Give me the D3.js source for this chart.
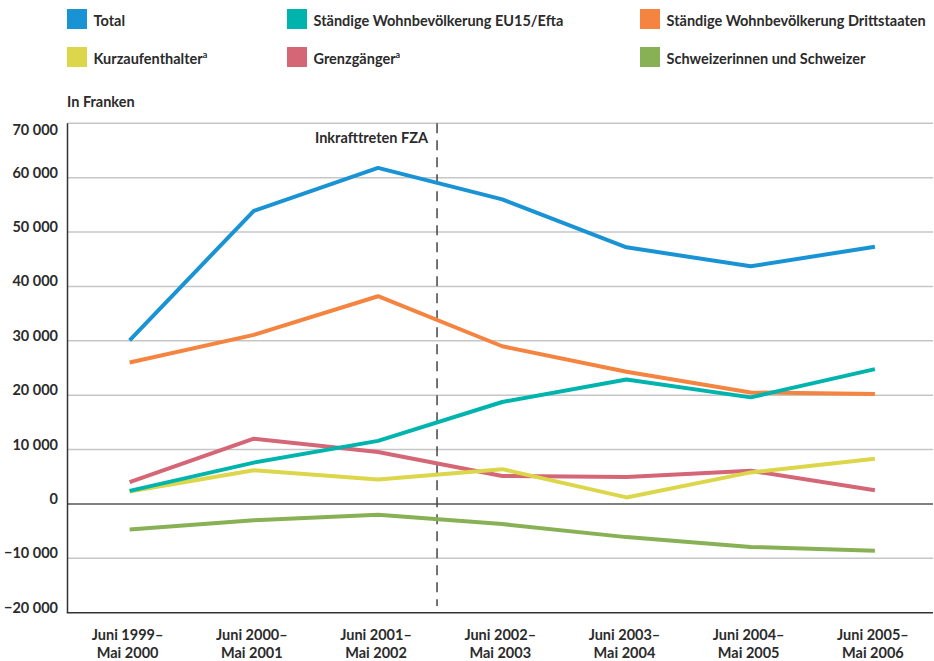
<!DOCTYPE html>
<html>
<head>
<meta charset="utf-8">
<script src="https://cdn.jsdelivr.net/npm/d3@7"></script>
<style>
  body { margin: 0; background: #fff; }
  svg text { font-family: Lato, "Open Sans", sans-serif; font-weight: 700; fill: #2b2b2b; }
</style>
</head>
<body>
<svg id="chart" width="934" height="661"></svg>
<script>
// categories (x axis)
var periods = ["Juni 1999–|Mai 2000", "Juni 2000–|Mai 2001", "Juni 2001–|Mai 2002",
  "Juni 2002–|Mai 2003", "Juni 2003–|Mai 2004", "Juni 2004–|Mai 2005", "Juni 2005–|Mai 2006"];

// series values (in Franken)
var total      = [30100, 53900, 61800, 56000, 47200, 43700, 47300];
var eu15Efta   = [2400, 7600, 11600, 18750, 22900, 19600, 24800];
var drittstaat = [26000, 31100, 38200, 29000, 24300, 20500, 20200];
var kurzauf    = [2300, 6200, 4500, 6400, 1200, 5800, 8300];
var grenzg     = [4000, 12000, 9550, 5150, 4950, 6100, 2500];
var schweizer  = [-4700, -3000, -2000, -3700, -6100, -7900, -8600];

var seriesNames = ["Total", "Ständige Wohnbevölkerung EU15/Efta", "Ständige Wohnbevölkerung Drittstaaten",
  "Kurzaufenthalter", "Grenzgänger", "Schweizerinnen und Schweizer"];
var seriesColors = ["#1a93d4", "#00b4ae", "#f58441", "#dcd64a", "#d46676", "#88b055"];
var yTicks = [-20000, -10000, 0, 10000, 20000, 30000, 40000, 50000, 60000, 70000];

var svg = d3.select("#chart");
var plotL = 67.5, plotR = 933, plotT = 123.3, plotB = 612.7;

var x = d3.scalePoint().domain(d3.range(periods.length)).range([plotL, 937]).padding(0.5);
var y = d3.scaleLinear().domain([-20000, 70000]).range([plotB, plotT]);

var fmt = d3.formatLocale({decimal: ".", thousands: " ", grouping: [3], currency: ["", ""], minus: "\u2212"}).format(",");

// grid
svg.append("g").selectAll("line")
  .data(yTicks.filter(function(d) { return d != 0 && d != -20000; }))
  .enter().append("line")
  .attr("x1", plotL).attr("x2", plotR)
  .attr("y1", function(d) { return y(d); }).attr("y2", function(d) { return y(d); })
  .attr("stroke", "#c6c6c6").attr("stroke-width", 1.5);

// zero line
svg.append("line").attr("x1", plotL).attr("x2", plotR)
  .attr("y1", y(0)).attr("y2", y(0))
  .attr("stroke", "#555").attr("stroke-width", 1.5);

// y labels
svg.append("g").selectAll("text")
  .data(yTicks).enter().append("text")
  .attr("x", 58)
  .attr("y", function(d) { return d == 70000 ? y(d) + 12 : y(d); })
  .attr("text-anchor", "end")
  .attr("font-size", 14.5)
  .text(function(d) { return fmt(d); });

svg.append("text").attr("x", 67).attr("y", 107).attr("font-size", 14.5).text("In Franken");

// axes frame
svg.append("line").attr("x1", plotL).attr("x2", plotL).attr("y1", plotT).attr("y2", plotB)
  .attr("stroke", "#333").attr("stroke-width", 1.5);
svg.append("line").attr("x1", plotL - 0.75).attr("x2", plotR).attr("y1", plotB).attr("y2", plotB)
  .attr("stroke", "#333").attr("stroke-width", 1.5);

// x labels
var xl = svg.append("g").selectAll("text")
  .data(periods).enter().append("text")
  .attr("text-anchor", "middle")
  .attr("font-size", 14.5);
xl.append("tspan").attr("x", function(d, i) { return x(i) - 2; }).attr("y", 640)
  .text(function(d) { return d.split("|")[0]; });
xl.append("tspan").attr("x", function(d, i) { return x(i) - 2; }).attr("y", 657.5)
  .text(function(d) { return d.split("|")[1]; });

// FZA marker
var fzaX = x(2) + x.step() * 0.475;
svg.append("line").attr("x1", fzaX).attr("x2", fzaX).attr("y1", plotT).attr("y2", 606)
  .attr("stroke", "#444").attr("stroke-width", 1.5).attr("stroke-dasharray", "10,7");
svg.append("text").attr("x", fzaX - 9).attr("y", 143).attr("text-anchor", "end")
  .attr("font-size", 14.5).text("Inkrafttreten FZA");

// lines
var line = d3.line().x(function(d, i) { return x(i); }).y(function(d) { return y(d); });
var allSeries = [total, eu15Efta, drittstaat, kurzauf, grenzg, schweizer];
var drawOrder = [4, 3, 5, 2, 1, 0];
drawOrder.forEach(function(k) {
  svg.append("path")
    .datum(allSeries[k])
    .attr("d", line)
    .attr("fill", "none")
    .attr("stroke", seriesColors[k])
    .attr("stroke-width", 4)
    .attr("stroke-linejoin", "round");
});

// legend
var legendPos = [[67, 9], [287, 9], [640, 9], [67, 47], [287, 47], [640, 47]];
var lg = svg.append("g").selectAll("g")
  .data(seriesNames).enter().append("g")
  .attr("transform", function(d, i) { return "translate(" + legendPos[i][0] + "," + legendPos[i][1] + ")"; });
lg.append("rect").attr("width", 20).attr("height", 20)
  .attr("fill", function(d, i) { return seriesColors[i]; });
var lt = lg.append("text").attr("x", 26.5).attr("y", 16.5).attr("font-size", 14.5)
  .text(function(d) { return d; });
lt.filter(function(d) { return d == "Kurzaufenthalter" || d == "Grenzgänger"; })
  .append("tspan").attr("font-size", 9).attr("dy", -6).text("a");
</script>
</body>
</html>
